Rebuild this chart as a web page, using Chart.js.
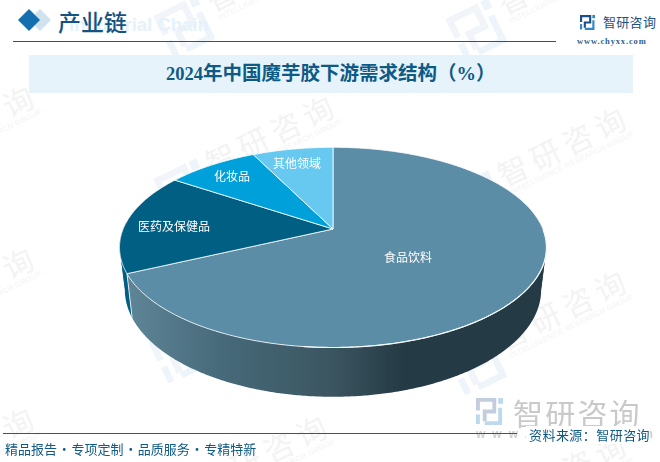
<!DOCTYPE html>
<html><head><meta charset="utf-8">
<script src="https://cdn.jsdelivr.net/npm/chart.js@4"></script>
<style>
html,body{margin:0;padding:0;background:#fff}
#page{position:relative;width:660px;height:462px;overflow:hidden;font-family:"Liberation Serif","Noto Sans CJK SC",serif}
#page div{position:absolute;white-space:nowrap}
#page svg{position:absolute}
canvas{position:absolute;left:0;top:0}
.wm{width:0;height:0;transform:rotate(-26deg);transform-origin:0 0}
.wmt{left:31px;top:-34px;font:30px/40px "Noto Sans CJK SC";letter-spacing:6px;color:#f3f3f3}
.wms{left:34px;top:2px;font:7.5px/10px "Liberation Sans";letter-spacing:.35px;color:#f3f3f3}
</style></head>
<body><div id="page">
<div id="wmarks"></div>
<div style="left:69px;top:14px;font:bold 18.5px/22px 'Liberation Sans';color:#e5f2fb">Industrial Chain</div>
<svg style="left:18px;top:8px" width="36" height="24"><polygon points="22,1 33,12 22,23 11,12" fill="#cfe2ee"/><polygon points="11,1 22,12 11,23 0,12" fill="#136fae"/></svg>
<div style="left:58px;top:6px;font:500 23px/30px 'Noto Sans CJK SC';color:#15537f">产业链</div>
<div style="left:13px;top:41px;width:543px;height:1px;background:#1b5a85"></div>
<div id="toplogo"></div>
<div style="left:603px;top:13px;font:13px/18px 'Noto Sans CJK SC';letter-spacing:.3px;color:#1f4f80">智研咨询</div>
<div style="left:577px;top:36px;font:bold 8.5px/11px 'Liberation Serif';letter-spacing:.85px;color:#2d5f8c">www.chyxx.com</div>
<div style="left:29px;top:55px;width:604px;height:38px;background:#e6f3fb"></div>
<div style="left:166px;top:60px;font:bold 19.5px/28px 'Liberation Serif','Noto Sans CJK SC';color:#0f5a85"><b style="font-size:18.5px">2024</b>年中国魔芋胶下游需求结构（%）</div>
<canvas id="c" width="660" height="462"></canvas>
<div id="botlogo"></div>
<div style="left:513px;top:392px;font:30px/40px 'Noto Sans CJK SC';letter-spacing:2.2px;color:#c9c9c9">智研咨询</div>
<div style="left:476px;top:427px;font:bold 12px/14px 'Liberation Sans';letter-spacing:7px;color:#cfcfcf">www.chyxx.com</div>
<div style="left:3px;top:433px;width:514px;height:1px;background:#1b5f8c"></div>
<div style="left:526px;top:426px;padding-left:3px;background:#fff;font:13px/18px 'Noto Sans CJK SC';letter-spacing:.45px;color:#0f5a85">资料来源：智研咨询</div>
<div style="left:5px;top:440px;font:13px/18px 'Noto Sans CJK SC';word-spacing:-2.2px;color:#0f5a85">精品报告 · 专项定制 · 品质服务 · 专精特新</div>
</div>
<script>
const categories = ["食品饮料", "医药及保健品", "化妆品", "其他领域"];
const shares = [68, 16.4, 8.3, 7.3];
const sliceColors = ["#5c8da6", "#005f83", "#00a0da", "#67c8f0"];
const labelAnchors = [[408, 257], [174, 226], [232, 176], [297, 163]];

const logoSvg = (x, y, s, dark, light) =>
  `<svg style="left:${x}px;top:${y}px" width="${s}" height="${s}" viewBox="0 0 28 28" fill="none">
   <path d="M2 13V2H19V14H9V24" stroke="${dark}" stroke-width="4"/>
   <path d="M25 10V26H9" stroke="${light}" stroke-width="4"/>
   <rect x="23" y="0" width="5" height="6" fill="${light}"/>
   <rect x="0" y="17" width="4" height="10" fill="${light}"/></svg>`;
document.getElementById("toplogo").innerHTML = logoSvg(580, 15, 15, "#1d4f86", "#2f86c9");
document.getElementById("botlogo").innerHTML = logoSvg(476, 398, 27, "#c3cddd", "#bcd9ef");

const tiles = [[-115,17],[-115,180],[-115,342],[-115,502],[185,27],[185,190],[180,353],[178,510],[477,30],[477,202],[477,365],[477,528]];
document.getElementById("wmarks").innerHTML = tiles.map(([x, y]) =>
  `<div class="wm" style="left:${x}px;top:${y}px">${logoSvg(-24,-24,48,"#f1f4f8","#edf5fb")}
   <div class="wmt">智研咨询</div><div class="wms">INTELLIGENCE RESEARCH GROUP</div></div>`).join("");

const pie3d = {
  id: "pie3d",
  beforeDatasetDraw(chart, args) {
    const ctx = chart.ctx, arcs = args.meta.data;
    const { x: cx, y: cy, outerRadius: r } = arcs[0];
    const k = -0.184, root = Math.sqrt(1 - k * k);
    const top = { a: r * root, b: r * 0.453, y: cy };
    const low = { a: r * root * 0.975, b: r * 0.4846, y: cy + 41 };
    const pt = (f, t) => {
      const s = Math.sin(t), c = Math.cos(t), d = 1 - k * c;
      return [cx + f.a * s / d, f.y - f.b * c / d];
    };
    const theta = el => [el.startAngle + Math.PI / 2, el.endAngle + Math.PI / 2];
    const step = Math.PI / 360;
    const foldR = Math.acos(k), foldL = 2 * Math.PI - foldR;

    const grad = ctx.createLinearGradient(cx - r * 0.98, 0, cx + r * 0.55, 0);
    grad.addColorStop(0, "#5f8698");
    grad.addColorStop(0.31, "#466979");
    grad.addColorStop(0.64, "#3b5560");
    grad.addColorStop(0.86, "#243a44");
    grad.addColorStop(1, "#243a44");

    ctx.save();
    const front = [];
    arcs.forEach((el, i) => {
      const [t0, t1] = theta(el);
      const a = Math.max(t0, foldR), b = Math.min(t1, foldL);
      if (b > a) front.push({ i, a, b });
    });
    front.reverse().forEach(({ i, a, b }) => {
      const fill = i === 0 ? grad : arcs[i].options.backgroundColor;
      ctx.beginPath();
      for (let u = a; u < b; u += step) ctx.lineTo(...pt(top, u));
      ctx.lineTo(...pt(top, b));
      for (let u = b; u > a; u -= step) ctx.lineTo(...pt(low, u));
      ctx.lineTo(...pt(low, a));
      ctx.closePath();
      ctx.fillStyle = fill; ctx.fill();
    });
    [[foldR - 0.25, foldR, 0], [foldL, foldL + 0.25, 1]].forEach(([a, b, i]) => {
      const fill = i === 0 ? grad : arcs[i].options.backgroundColor;
      ctx.beginPath();
      for (let u = a; u < b; u += step) ctx.lineTo(...pt(top, u));
      ctx.lineTo(...pt(top, b));
      for (let u = b; u > a; u -= step) ctx.lineTo(...pt(low, u));
      ctx.closePath();
      ctx.fillStyle = fill; ctx.fill();
    });
    const seam = theta(arcs[0])[1];
    ctx.strokeStyle = "rgba(255,255,255,.8)"; ctx.lineWidth = 1;
    ctx.beginPath(); ctx.moveTo(...pt(top, seam)); ctx.lineTo(...pt(low, seam)); ctx.stroke();
    arcs.forEach(el => {
      const [t0, t1] = theta(el);
      ctx.beginPath(); ctx.moveTo(cx, cy);
      for (let u = t0; u < t1; u += step) ctx.lineTo(...pt(top, u));
      ctx.lineTo(...pt(top, t1));
      ctx.closePath();
      ctx.fillStyle = el.options.backgroundColor; ctx.fill();
      ctx.strokeStyle = el.options.borderColor; ctx.lineWidth = el.options.borderWidth;
      ctx.lineJoin = "round"; ctx.stroke();
    });
    ctx.beginPath();
    for (let u = foldR * 0.9; u < foldL * 0.72; u += step) ctx.lineTo(...pt(top, u));
    ctx.strokeStyle = "#f4f8fa"; ctx.lineWidth = 1.2; ctx.stroke();
    ctx.fillStyle = "#fff"; ctx.textAlign = "center"; ctx.textBaseline = "middle";
    ctx.font = '12px "Noto Sans CJK SC"';
    categories.forEach((c, i) => ctx.fillText(c, labelAnchors[i][0], labelAnchors[i][1]));
    ctx.restore();
    return false;
  }
};

new Chart(document.getElementById("c"), {
  type: "pie",
  data: { labels: categories, datasets: [{ data: shares, backgroundColor: sliceColors, borderColor: "rgba(255,255,255,.8)", borderWidth: 1 }] },
  options: {
    responsive: false, animation: false, devicePixelRatio: 1,
    layout: { padding: { left: 119, right: 113, top: 15, bottom: 19 } },
    plugins: { legend: { display: false }, tooltip: { enabled: false }, title: { display: false } }
  },
  plugins: [pie3d]
});
</script></body></html>
